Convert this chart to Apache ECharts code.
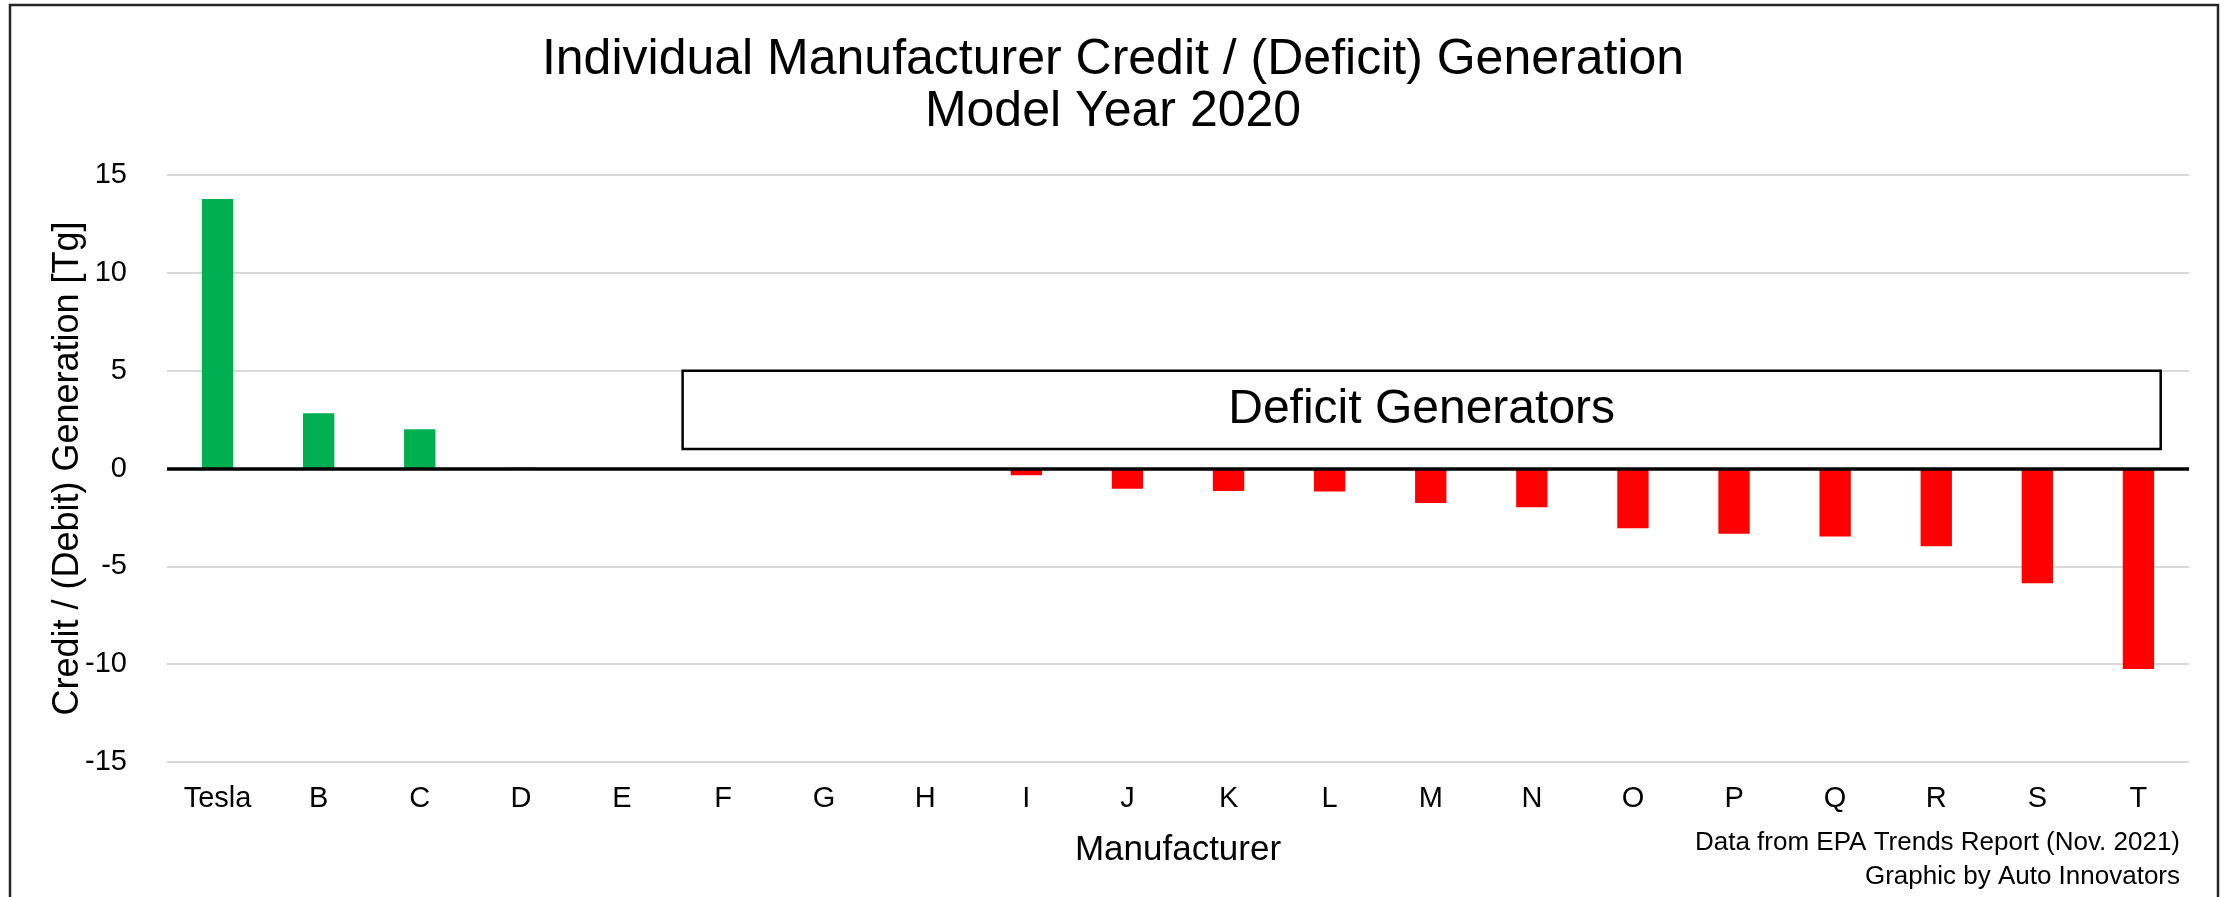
<!DOCTYPE html>
<html>
<head>
<meta charset="utf-8">
<script src="https://cdn.jsdelivr.net/npm/echarts@6/dist/echarts.min.js"></script>
<style>
html,body{margin:0;padding:0;background:#fff;}
#chart{width:2224px;height:897px;}
</style>
</head>
<body>
<div id="chart"></div>
<script>
// ---- data ----
var categories = ['Tesla','B','C','D','E','F','G','H','I','J','K','L','M','N','O','P','Q','R','S','T'];
var values = [13.77, 2.83, 2.01, 0.05, 0, 0, 0, 0, -0.35, -1.03, -1.15, -1.18, -1.76, -1.98, -3.05, -3.34, -3.48, -3.97, -5.87, -10.25];
var yTicks = [-15, -10, -5, 0, 5, 10, 15];
// annotation box: [x start (category units), top value, x end, bottom value]
var deficitBox = [[5.1, 5, 19.72, 1]];
var boxLabel = 'Deficit Generators';
var titleText = 'Individual Manufacturer Credit / (Deficit) Generation\nModel Year 2020';
var xName = 'Manufacturer';
var yName = 'Credit / (Debit) Generation [Tg]';
var footnote = 'Data from EPA Trends Report (Nov. 2021)\nGraphic by Auto Innovators';

var FONT = 'Liberation Sans, Arial, sans-serif';
var chart = echarts.init(document.getElementById('chart'));

var option = {
  backgroundColor: '#ffffff',
  animation: false,
  grid: { left: 167, right: 35, top: 175, bottom: 135, containLabel: false },
  xAxis: [{
    type: 'category',
    data: categories,
    axisLine: { show: false },
    axisTick: { show: false },
    axisLabel: { fontFamily: FONT, fontSize: 29, color: '#000', margin: 22, interval: 0 },
    name: xName,
    nameLocation: 'middle',
    nameGap: 71,
    nameTextStyle: { fontFamily: FONT, fontSize: 35, color: '#000' }
  }, {
    type: 'value',
    min: 0, max: 20,
    show: false
  }],
  yAxis: {
    type: 'value',
    min: yTicks[0], max: yTicks[yTicks.length - 1], interval: 5,
    axisLine: { show: false },
    axisTick: { show: false },
    axisLabel: { fontFamily: FONT, fontSize: 29, color: '#000', margin: 40 },
    splitLine: { lineStyle: { color: '#d9d9d9', width: 2 } },
    name: yName,
    nameLocation: 'middle',
    nameGap: 81,
    nameMoveOverlap: false,
    nameTextStyle: { fontFamily: FONT, fontSize: 36, color: '#000' }
  },
  series: [{
    type: 'bar',
    xAxisIndex: 0,
    data: values,
    barWidth: '31%',
    itemStyle: {
      color: function (p) { return p.value >= 0 ? '#00b050' : '#ff0000'; }
    },
    markLine: {
      silent: true,
      symbol: ['none', 'none'],
      label: { show: false },
      lineStyle: { color: '#000', width: 3.5, type: 'solid' },
      data: [{ yAxis: 0 }]
    },
    z: 2
  }, {
    type: 'custom',
    xAxisIndex: 1,
    data: deficitBox,
    z: 5,
    renderItem: function (params, api) {
      var p0 = api.coord([api.value(0), api.value(1)]);
      var p1 = api.coord([api.value(2), api.value(3)]);
      return {
        type: 'group',
        children: [{
          type: 'rect',
          shape: { x: p0[0], y: p0[1], width: p1[0] - p0[0], height: p1[1] - p0[1] },
          style: { fill: '#fff', stroke: '#000', lineWidth: 2.5 }
        }, {
          type: 'text',
          style: {
            text: boxLabel,
            x: (p0[0] + p1[0]) / 2,
            y: (p0[1] + p1[1]) / 2,
            align: 'center',
            verticalAlign: 'middle',
            font: '48px ' + FONT,
            fill: '#000'
          }
        }]
      };
    }
  }],
  graphic: [{
    type: 'rect',
    shape: { x: 10, y: 5, width: 2208, height: 905 },
    style: { fill: 'none', stroke: '#262626', lineWidth: 2.5 },
    silent: true
  }, {
    type: 'text',
    silent: true,
    style: {
      text: titleText,
      x: 1113,
      y: 34,
      align: 'center',
      verticalAlign: 'top',
      font: '50px ' + FONT,
      lineHeight: 52,
      fill: '#000'
    }
  }, {
    type: 'text',
    silent: true,
    style: {
      text: footnote,
      x: 2180,
      y: 826,
      align: 'right',
      verticalAlign: 'top',
      font: '26px ' + FONT,
      lineHeight: 34,
      fill: '#000'
    }
  }]
};
chart.setOption(option);
</script>
</body>
</html>
